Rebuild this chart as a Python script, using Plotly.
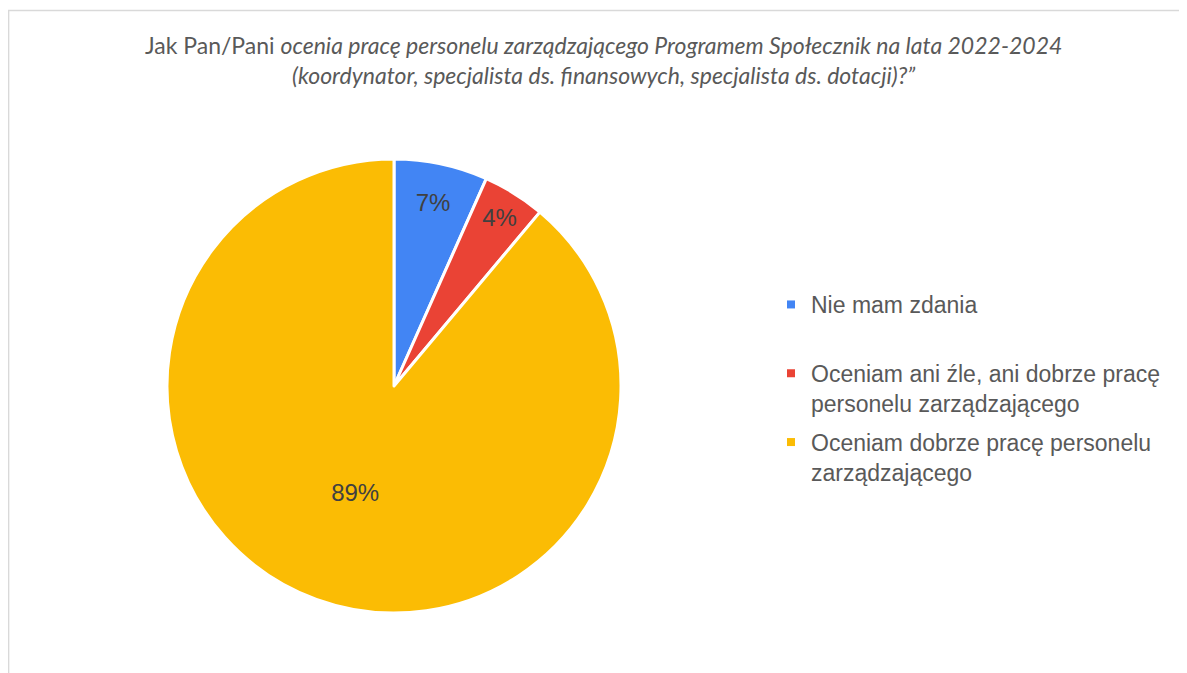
import plotly.graph_objects as go

labels = [
    "Nie mam zdania",
    "Oceniam ani źle, ani dobrze pracę<br>personelu zarządzającego",
    "Oceniam dobrze pracę personelu<br>zarządzającego",
]
values = [3, 2, 40]
colors = ["#4285F4", "#EA4335", "#FBBC04"]

W, H = 1187, 673
cx, cy, r = 386, 378, 227

fig = go.Figure()
fig.add_trace(go.Pie(
    labels=labels,
    values=values,
    sort=False,
    direction="clockwise",
    rotation=0,
    marker=dict(colors=colors, line=dict(color="white", width=3)),
    texttemplate="%{percent:.0%}",
    textposition="inside",
    insidetextorientation="horizontal",
    textfont=dict(family="Liberation Sans, Arial", size=24, color="#404040"),
    hoverinfo="label+percent",
    showlegend=False,
    domain=dict(x=[(cx - r) / W, (cx + r) / W], y=[(H - cy - r) / H, (H - cy + r) / H]),
))

# legend entries (one group per category so spacing can be controlled)
for i, (lab, col) in enumerate(zip(labels, colors)):
    name = lab if "<br>" in lab else lab + "<br> "
    fig.add_trace(go.Scatter(
        x=[None], y=[None], mode="markers", name=name,
        marker=dict(symbol="square", size=8, color=col),
        legendgroup=f"g{i}", showlegend=True, hoverinfo="skip",
    ))

fig.add_annotation(
    x=596 / W, y=1 - 52 / H, xref="paper", yref="paper",
    text="Jak Pan/Pani <i>ocenia pracę personelu zarządzającego Programem Społecznik na lata 2022-2024</i><br>"
         "<i>(koordynator, specjalista ds. finansowych, specjalista ds. dotacji)?”</i>",
    showarrow=False, xanchor="center", yanchor="middle",
    font=dict(family="Lato, Open Sans", size=23, color="#595959"),
    align="center",
)

fig.add_shape(type="rect", xref="paper", yref="paper",
              x0=0.6 / W, x1=1.05, y0=-0.05, y1=1 - 2.5 / H,
              line=dict(color="#D9D9D9", width=1.5), fillcolor="rgba(0,0,0,0)")

fig.update_layout(
    width=W, height=H,
    margin=dict(l=0, r=0, t=0, b=0),
    paper_bgcolor="white",
    plot_bgcolor="white",
    showlegend=True,
    uniformtext=dict(minsize=24, mode="show"),
    xaxis=dict(visible=False),
    yaxis=dict(visible=False),
    legend=dict(
        x=763 / W, y=1 - 275 / H, xanchor="left", yanchor="top",
        font=dict(family="Liberation Sans, Arial", size=23, color="#595959"),
        valign="top",
        itemwidth=30,
        tracegroupgap=6,
        traceorder="grouped",
        bgcolor="rgba(0,0,0,0)",
    ),
)

fig.write_html("out.html")
